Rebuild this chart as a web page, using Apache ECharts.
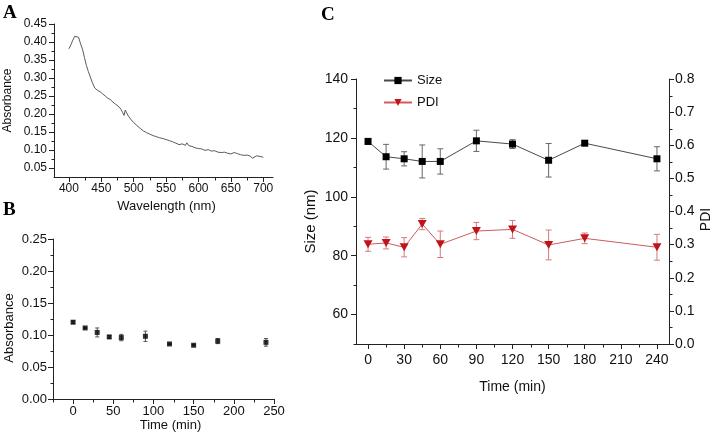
<!DOCTYPE html>
<html>
<head>
<meta charset="utf-8">
<script src="https://cdn.jsdelivr.net/npm/echarts@6/dist/echarts.min.js"></script>
<style>
  html, body { margin: 0; padding: 0; background: #fff; }
  #chart { width: 714px; height: 436px; }
</style>
</head>
<body>
<div id="chart"></div>
<script>
// panel A: absorption spectrum
const wavelength = [400, 403, 406, 409, 412, 415, 418, 421, 424, 427, 430, 433, 436, 440, 444, 448, 452, 456, 460, 464,
  468, 472, 476, 480, 483, 485, 487, 489, 492, 496, 500, 505, 510, 515, 520, 525, 530, 535, 540, 545,
  550, 555, 560, 565, 570, 575, 580, 582, 585, 590, 595, 600, 605, 610, 615, 620, 625, 630, 635, 640,
  645, 650, 655, 660, 665, 670, 675, 680, 683, 686, 690, 695, 700]
const absorbance = [0.381, 0.392, 0.405, 0.416, 0.415, 0.413, 0.395, 0.380, 0.357, 0.335, 0.318, 0.303, 0.288, 0.272, 0.266, 0.262, 0.256, 0.250, 0.244, 0.240,
  0.233, 0.227, 0.222, 0.214, 0.204, 0.196, 0.211, 0.203, 0.194, 0.184, 0.176, 0.168, 0.160, 0.153, 0.148, 0.144, 0.140, 0.137, 0.134, 0.132,
  0.129, 0.126, 0.123, 0.119, 0.115, 0.117, 0.113, 0.120, 0.112, 0.110, 0.106, 0.104, 0.103, 0.099, 0.101, 0.097, 0.098, 0.094, 0.093, 0.094,
  0.091, 0.089, 0.093, 0.090, 0.087, 0.085, 0.086, 0.083, 0.077, 0.082, 0.084, 0.082, 0.080]

// panel B: absorbance over time
const bTime = [0, 15, 30, 45, 60, 90, 120, 150, 180, 240]
const bAbs = [0.120, 0.111, 0.104, 0.097, 0.096, 0.098, 0.086, 0.084, 0.0905, 0.0885]
const bErr = [0.002, 0.001, 0.007, 0.002, 0.005, 0.008, 0.001, 0.001, 0.004, 0.006]

// panel C: size and PDI over time
const cTime = [0, 15, 30, 45, 60, 90, 120, 150, 180, 240]
const sizeNm = [118.8, 113.6, 112.9, 112.0, 112.0, 119.0, 117.9, 112.4, 118.2, 112.9]
const sizeErr = [1.0, 4.2, 2.4, 5.6, 4.3, 3.6, 1.5, 5.7, 0.6, 4.1]
const pdi = [0.301, 0.305, 0.292, 0.362, 0.301, 0.341, 0.346, 0.299, 0.319, 0.292]
const pdiErr = [0.021, 0.018, 0.029, 0.017, 0.040, 0.026, 0.027, 0.045, 0.016, 0.039]

// tick values
const aXTicks = [400, 450, 500, 550, 600, 650, 700]
const aXMinor = [425, 475, 525, 575, 625, 675]
const aYTicks = [0.05, 0.10, 0.15, 0.20, 0.25, 0.30, 0.35, 0.40, 0.45]
const aYMinor = [0.075, 0.125, 0.175, 0.225, 0.275, 0.325, 0.375, 0.425]
const bXTicks = [0, 50, 100, 150, 200, 250]
const bXMinor = [-25, 25, 75, 125, 175, 225]
const bYTicks = [0, 0.05, 0.10, 0.15, 0.20, 0.25]
const bYMinor = [0.025, 0.075, 0.125, 0.175, 0.225]
const cXTicks = [0, 30, 60, 90, 120, 150, 180, 210, 240]
const cXMinor = [15, 45, 75, 105, 135, 165, 195, 225]
const cYLeftTicks = [60, 80, 100, 120, 140]
const cYLeftMinor = [50, 70, 90, 110, 130]
const cYRightTicks = [0, 0.1, 0.2, 0.3, 0.4, 0.5, 0.6, 0.7, 0.8]
const cYRightMinor = [0.05, 0.15, 0.25, 0.35, 0.45, 0.55, 0.65, 0.75]

// axis ranges
const aX = [377, 715], aY = [0.025, 0.45]
const bX = [-25, 250], bY = [0, 0.25]
const cX = [-10, 250], cYL = [50, 140], cYR = [0, 0.8]

const FONT = 'Liberation Sans, Arial, sans-serif'
const AXIS_COLOR = '#222'

const chart = echarts.init(document.getElementById('chart'))

// axis: line, major ticks, labels and title
const makeAxis = (grid, range, ticks, opts) => ({
  type: 'value',
  gridIndex: grid,
  min: range[0],
  max: range[1],
  position: opts.position,
  axisLine: { show: true, onZero: false, lineStyle: { color: AXIS_COLOR, width: 1 } },
  axisTick: { show: true, customValues: ticks, length: 5, lineStyle: { color: AXIS_COLOR, width: 1 } },
  axisLabel: {
    customValues: ticks,
    margin: opts.margin,
    fontSize: opts.fontSize,
    fontFamily: FONT,
    color: '#111',
    formatter: opts.formatter
  },
  splitLine: { show: false },
  name: opts.name,
  nameLocation: 'middle',
  nameGap: opts.nameGap,
  nameRotate: opts.nameRotate,
  nameTextStyle: Object.assign({ fontSize: opts.nameSize, fontFamily: FONT, color: '#111' }, opts.nameStyle || {})
})

// short minor ticks drawn just outside the plot edge, placed by the axis scale
const tickSeries = (xi, yi, values, side, edge, len) => ({
  type: 'custom',
  xAxisIndex: xi,
  yAxisIndex: yi,
  silent: true,
  clip: false,
  z: 5,
  encode: { x: 0, y: 1 },
  data: values.map(v => (side === 'bottom' ? [v, edge] : [edge, v])),
  renderItem: (params, api) => {
    const p = api.coord([api.value(0), api.value(1)])
    const x = Math.round(p[0]) + 0.5
    const y = Math.round(p[1]) + 0.5
    const d = side === 'bottom' ? [0, len] : side === 'left' ? [-len, 0] : [len, 0]
    return {
      type: 'line',
      shape: { x1: x, y1: y, x2: x + d[0], y2: y + d[1] },
      style: { stroke: AXIS_COLOR, lineWidth: 1 }
    }
  }
})

const errorBars = (capHalf, color) => (params, api) => {
  const x = api.value(0)
  const lo = api.coord([x, api.value(1)])
  const hi = api.coord([x, api.value(2)])
  const style = { stroke: color, lineWidth: 1 }
  return {
    type: 'group',
    children: [
      { type: 'line', shape: { x1: lo[0], y1: lo[1], x2: hi[0], y2: hi[1] }, style: style },
      { type: 'line', shape: { x1: lo[0] - capHalf, y1: lo[1], x2: lo[0] + capHalf, y2: lo[1] }, style: style },
      { type: 'line', shape: { x1: hi[0] - capHalf, y1: hi[1], x2: hi[0] + capHalf, y2: hi[1] }, style: style }
    ]
  }
}

const f2 = v => v.toFixed(2)
const f1 = v => v.toFixed(1)

const option = {
  animation: false,
  backgroundColor: '#fff',
  textStyle: { fontFamily: FONT },
  grid: [
    { left: 54, top: 24, width: 219, height: 153 },
    { left: 53, top: 239, width: 221, height: 160 },
    { left: 356, top: 79, width: 313, height: 265 }
  ],
  graphic: [
    { type: 'text', left: 3, top: 4, style: { text: 'A', font: 'bold 19px Liberation Serif', fill: '#000' } },
    { type: 'text', left: 3, top: 201, style: { text: 'B', font: 'bold 19px Liberation Serif', fill: '#000' } },
    { type: 'text', left: 321, top: 6, style: { text: 'C', font: 'bold 19px Liberation Serif', fill: '#000' } }
  ],
  legend: {
    orient: 'vertical',
    left: 378,
    top: 69,
    itemWidth: 28,
    itemHeight: 9,
    itemGap: 9,
    textStyle: { fontSize: 13, fontFamily: FONT, color: '#111' },
    data: ['Size', 'PDI']
  },
  xAxis: [
    makeAxis(0, aX, aXTicks, { position: 'bottom', margin: 6, fontSize: 12, name: 'Wavelength (nm)', nameGap: 23, nameSize: 13, nameStyle: { padding: [0, 0, 0, 6] } }),
    makeAxis(1, bX, bXTicks, { position: 'bottom', margin: 6, fontSize: 13, name: 'Time (min)', nameGap: 20, nameSize: 13, nameStyle: { padding: [0, 0, 0, 14] } }),
    makeAxis(2, cX, cXTicks, { position: 'bottom', margin: 9, fontSize: 14, name: 'Time (min)', nameGap: 36, nameSize: 14 })
  ],
  yAxis: [
    makeAxis(0, aY, aYTicks, { position: 'left', margin: 7, fontSize: 12, formatter: f2, name: 'Absorbance', nameGap: 40, nameSize: 12 }),
    makeAxis(1, bY, bYTicks, { position: 'left', margin: 6, fontSize: 13, formatter: f2, name: 'Absorbance', nameGap: 37, nameSize: 13, nameStyle: { padding: [0, 18, 0, 0] } }),
    makeAxis(2, cYL, cYLeftTicks, { position: 'left', margin: 8, fontSize: 14, name: 'Size (nm)', nameGap: 38, nameSize: 15, nameStyle: { padding: [0, 20, 0, 0] } }),
    makeAxis(2, cYR, cYRightTicks, { position: 'right', margin: 6, fontSize: 14, formatter: f1, name: 'PDI', nameGap: 30, nameSize: 14, nameRotate: 90, nameStyle: { padding: [0, 16, 0, 0] } })
  ],
  series: [
    // minor tick marks
    tickSeries(0, 0, aXMinor, 'bottom', aY[0], 3),
    tickSeries(0, 0, aYMinor, 'left', aX[0], 3),
    tickSeries(1, 1, bXMinor, 'bottom', bY[0], 3),
    tickSeries(1, 1, bYMinor, 'left', bX[0], 3),
    tickSeries(2, 2, cXMinor, 'bottom', cYL[0], 3),
    tickSeries(2, 2, cYLeftMinor, 'left', cX[0], 3),
    tickSeries(2, 3, cYRightMinor, 'right', cX[1], 3),
    {
      type: 'line',
      xAxisIndex: 0,
      yAxisIndex: 0,
      data: wavelength.map((w, i) => [w, absorbance[i]]),
      showSymbol: false,
      lineStyle: { color: '#5a5a5a', width: 1 }
    },
    {
      type: 'custom',
      xAxisIndex: 1,
      yAxisIndex: 1,
      renderItem: errorBars(2, '#555'),
      encode: { x: 0, y: [1, 2] },
      data: bTime.map((t, i) => [t, bAbs[i] - bErr[i], bAbs[i] + bErr[i]]),
      z: 1
    },
    {
      type: 'scatter',
      xAxisIndex: 1,
      yAxisIndex: 1,
      symbol: 'rect',
      symbolSize: 5,
      itemStyle: { color: '#000' },
      data: bTime.map((t, i) => [t, bAbs[i]]),
      z: 3
    },
    {
      type: 'custom',
      xAxisIndex: 2,
      yAxisIndex: 2,
      renderItem: errorBars(3, '#666'),
      encode: { x: 0, y: [1, 2] },
      data: cTime.map((t, i) => [t, sizeNm[i] - sizeErr[i], sizeNm[i] + sizeErr[i]]),
      z: 1
    },
    {
      name: 'Size',
      type: 'line',
      xAxisIndex: 2,
      yAxisIndex: 2,
      symbol: 'rect',
      symbolSize: 7,
      showSymbol: true,
      itemStyle: { color: '#000' },
      lineStyle: { color: '#4a4a4a', width: 1 },
      data: cTime.map((t, i) => [t, sizeNm[i]]),
      z: 3
    },
    {
      type: 'custom',
      xAxisIndex: 2,
      yAxisIndex: 3,
      renderItem: errorBars(3, '#d77a7a'),
      encode: { x: 0, y: [1, 2] },
      data: cTime.map((t, i) => [t, pdi[i] - pdiErr[i], pdi[i] + pdiErr[i]]),
      z: 1
    },
    {
      name: 'PDI',
      type: 'line',
      xAxisIndex: 2,
      yAxisIndex: 3,
      symbol: 'path://M0,0 L10,0 L5,9 Z',
      symbolSize: [9, 8],
      showSymbol: true,
      itemStyle: { color: '#c0141c' },
      lineStyle: { color: '#d25a5a', width: 1 },
      data: cTime.map((t, i) => [t, pdi[i]]),
      z: 3
    }
  ]
}

chart.setOption(option)
</script>
</body>
</html>
